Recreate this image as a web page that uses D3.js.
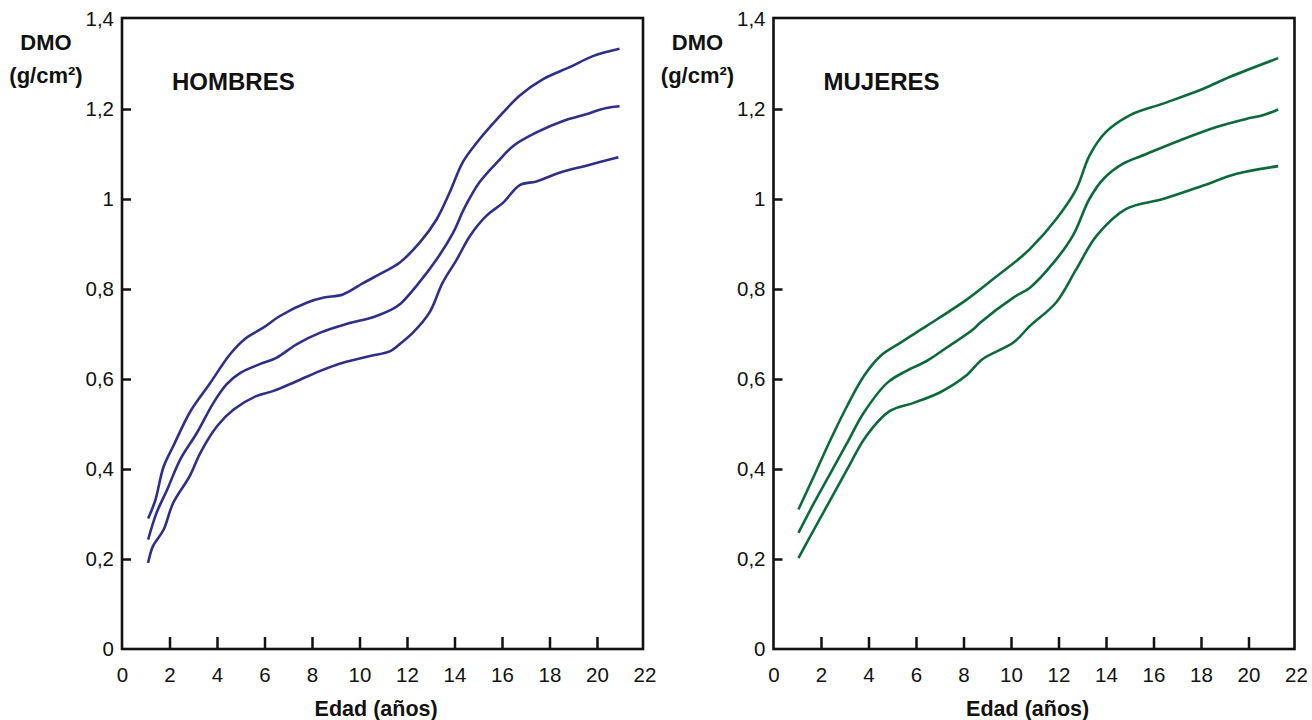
<!DOCTYPE html>
<html>
<head>
<meta charset="utf-8">
<script src="https://cdn.jsdelivr.net/npm/d3@7"></script>
<style>
  body { margin: 0; background: #fff; }
  text { font-family: "Liberation Sans", Arial, sans-serif; fill: #111; }
</style>
</head>
<body>
<svg id="chart" width="1312" height="720"></svg>
<script>
// ---- data (edad en años, DMO en g/cm2) ----
var xTicks = [0, 2, 4, 6, 8, 10, 12, 14, 16, 18, 20, 22];
var yTicks = [0, 0.2, 0.4, 0.6, 0.8, 1, 1.2, 1.4];

var menUpperAge = [1.1, 1.4, 1.75, 2.15, 2.9, 3.7, 4.55, 5.2, 5.95, 6.65, 7.8, 8.5, 9.3, 10.15, 10.85, 11.7, 12.55, 13.25, 13.8, 14.35, 14.95, 15.8, 16.75, 17.75, 18.85, 19.85, 20.95];
var menUpperVal = [0.29, 0.33, 0.405, 0.45, 0.53, 0.59, 0.655, 0.69, 0.714, 0.74, 0.77, 0.781, 0.788, 0.813, 0.833, 0.859, 0.904, 0.955, 1.015, 1.082, 1.126, 1.178, 1.23, 1.267, 1.293, 1.318, 1.334];

var menMidAge = [1.1, 1.45, 1.9, 2.45, 3.15, 3.85, 4.4, 5.0, 5.8, 6.5, 7.35, 8.35, 9.45, 10.6, 11.3, 11.7, 12.4, 13.25, 13.95, 14.4, 15.05, 15.8, 16.5, 17.45, 18.6, 19.4, 20.4, 20.95];
var menMidVal = [0.243, 0.302, 0.354, 0.421, 0.48, 0.547, 0.588, 0.614, 0.633, 0.647, 0.677, 0.703, 0.722, 0.738, 0.753, 0.766, 0.807, 0.866, 0.926, 0.978, 1.037, 1.082, 1.119, 1.148, 1.174, 1.186, 1.202, 1.206];

var menLowerAge = [1.1, 1.3, 1.75, 2.15, 2.85, 3.3, 4.0, 4.7, 5.65, 6.35, 7.35, 8.35, 9.3, 10.45, 11.3, 11.7, 12.25, 12.95, 13.5, 14.1, 14.65, 15.35, 16.05, 16.75, 17.45, 18.45, 19.55, 20.9];
var menLowerVal = [0.191, 0.228, 0.265, 0.324, 0.384, 0.436, 0.495, 0.532, 0.562, 0.573, 0.595, 0.618, 0.636, 0.651, 0.662, 0.678, 0.703, 0.748, 0.814, 0.866, 0.918, 0.963, 0.992, 1.031, 1.039, 1.059, 1.074, 1.093];

var womenUpperAge = [1.05, 1.7, 2.4, 3.1, 3.8, 4.5, 5.35, 6.45, 8.15, 9.25, 10.4, 10.8, 11.9, 12.75, 13.3, 14.0, 15.0, 16.4, 18.1, 19.2, 21.25];
var womenUpperVal = [0.31, 0.384, 0.465, 0.54, 0.606, 0.651, 0.681, 0.718, 0.777, 0.822, 0.87, 0.889, 0.955, 1.022, 1.096, 1.149, 1.186, 1.212, 1.245, 1.271, 1.313];

var womenMidAge = [1.05, 1.7, 2.4, 3.1, 3.8, 4.8, 5.6, 6.45, 7.3, 8.4, 8.7, 10.1, 10.8, 11.8, 12.6, 13.3, 13.9, 14.7, 15.7, 17.1, 18.65, 19.9, 20.6, 21.25];
var womenMidVal = [0.258, 0.324, 0.391, 0.458, 0.525, 0.592, 0.618, 0.64, 0.67, 0.71, 0.725, 0.781, 0.803, 0.859, 0.918, 1.0, 1.045, 1.078, 1.1, 1.13, 1.16, 1.178, 1.186, 1.199];

var womenLowerAge = [1.05, 1.7, 2.4, 3.1, 3.9, 4.9, 5.9, 7.0, 8.1, 8.8, 10.1, 10.8, 11.9, 12.75, 13.6, 14.85, 16.4, 18.1, 19.5, 21.25];
var womenLowerVal = [0.202, 0.265, 0.332, 0.399, 0.473, 0.529, 0.547, 0.57, 0.607, 0.644, 0.681, 0.718, 0.77, 0.844, 0.918, 0.978, 1.0, 1.03, 1.056, 1.073];

// pair ages with values
function zip(a, v) { return a.map(function(d, i) { return [d, v[i]]; }); }

var panels = [
  { title: "HOMBRES", left: 122, color: "#2e2f86",
    series: [zip(menUpperAge, menUpperVal), zip(menMidAge, menMidVal), zip(menLowerAge, menLowerVal)] },
  { title: "MUJERES", left: 773.5, color: "#0c6a3a",
    series: [zip(womenUpperAge, womenUpperVal), zip(womenMidAge, womenMidVal), zip(womenLowerAge, womenLowerVal)] }
];

var svg = d3.select("#chart");

// shared y scale
var y = d3.scaleLinear().domain([0, 1.4]).range([649, 19]);

function fmt(d) {
  if (d === 0) return "0";
  if (d === 1) return "1";
  return d3.format(".1f")(d).replace(".", ",");
}

panels.forEach(function(p) {
  var x = d3.scaleLinear().domain([0, 22]).range([p.left, p.left + 522.5]);
  var g = svg.append("g");

  // curves
  var line = d3.line()
    .x(function(d) { return x(d[0]); })
    .y(function(d) { return y(d[1]); })
    .curve(d3.curveCatmullRom.alpha(0.5));

  g.selectAll("path.curve")
    .data(p.series)
    .enter()
  .append("path")
    .attr("class", "curve")
    .attr("d", line)
    .attr("fill", "none")
    .attr("stroke", p.color)
    .attr("stroke-width", 2.6);

  // x axis (ticks pointing inward)
  var xa = g.append("g")
    .attr("transform", "translate(0," + y(0) + ")")
    .call(d3.axisBottom(x).tickValues(xTicks).tickSize(-12).tickPadding(18));
  xa.select(".domain").remove();
  xa.selectAll(".tick line")
    .attr("stroke", "#111").attr("stroke-width", 2.5)
    .filter(function(d) { return d === 0 || d === 22; }).remove();
  xa.selectAll(".tick text")
    .attr("font-size", 20.5).attr("fill", "#111")
    .style("font-family", "'Liberation Sans', Arial, sans-serif");

  // y axis
  var ya = g.append("g")
    .attr("transform", "translate(" + p.left + ",0)")
    .call(d3.axisLeft(y).tickValues(yTicks).tickSize(-9).tickPadding(8).tickFormat(fmt));
  ya.select(".domain").remove();
  ya.selectAll(".tick line")
    .attr("stroke", "#111").attr("stroke-width", 2.5)
    .filter(function(d) { return d === 0 || d === 1.4; }).remove();
  ya.selectAll(".tick text")
    .attr("font-size", 20.5).attr("fill", "#111")
    .style("font-family", "'Liberation Sans', Arial, sans-serif");

  // frame
  g.append("rect")
    .attr("x", x(0))
    .attr("y", 18)
    .attr("width", x(22) - x(0) - 1.5)
    .attr("height", y(0) - 18)
    .attr("fill", "none")
    .attr("stroke", "#111")
    .attr("stroke-width", 2.6);

  // panel title
  g.append("text")
    .attr("x", x(0) + 50)
    .attr("y", 90)
    .attr("font-size", 24)
    .attr("font-weight", "bold")
    .text(p.title);

  // y axis title
  g.append("text")
    .attr("x", x(0) - 76)
    .attr("y", 50)
    .attr("text-anchor", "middle")
    .attr("font-size", 22)
    .attr("font-weight", "bold")
    .text("DMO");
  g.append("text")
    .attr("x", x(0) - 76)
    .attr("y", 83)
    .attr("text-anchor", "middle")
    .attr("font-size", 22)
    .attr("font-weight", "bold")
    .text("(g/cm²)");

  // x axis title
  g.append("text")
    .attr("x", x(10.7))
    .attr("y", 716)
    .attr("text-anchor", "middle")
    .attr("font-size", 21.5)
    .attr("font-weight", "bold")
    .text("Edad (años)");
});
</script>
</body>
</html>
